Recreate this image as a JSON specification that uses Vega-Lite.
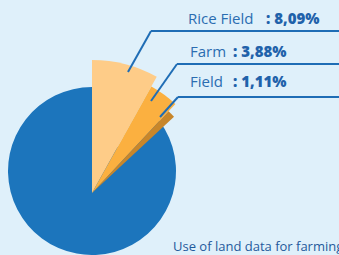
{
  "$schema": "https://vega.github.io/schema/vega-lite/v6.json",
  "width": 339,
  "height": 255,
  "autosize": {"type": "none"},
  "padding": 0,
  "background": "#DFF0FA",
  "config": {"view": {"stroke": null}},
  "data": {
    "values": [
      {"category": "Rice Field", "value": 8.09, "order": 1, "pct": ": 8,09%"},
      {"category": "Farm", "value": 3.88, "order": 2, "pct": ": 3,88%"},
      {"category": "Field", "value": 1.11, "order": 3, "pct": ": 1,11%"},
      {"category": "Other", "value": 86.92, "order": 4, "pct": ""}
    ]
  },
  "transform": [
    {"stack": "value", "groupby": [], "sort": [{"field": "order", "order": "ascending"}], "as": ["t0", "t1"]}
  ],
  "layer": [
    {
      "transform": [{"filter": "datum.category === 'Other'"}],
      "mark": {"type": "arc", "color": "#1C75BC"},
      "encoding": {
        "theta": {"field": "t0", "type": "quantitative", "scale": {"domain": [0, 100]}},
        "theta2": {"field": "t1"},
        "radius": {"value": 84},
        "x": {"value": 92},
        "y": {"value": 171}
      }
    },
    {
      "transform": [{"filter": "datum.category === 'Rice Field'"}],
      "mark": {"type": "arc", "color": "#FECC88"},
      "encoding": {
        "theta": {"field": "t0", "type": "quantitative", "scale": {"domain": [0, 100]}},
        "theta2": {"field": "t1"},
        "radius": {"value": 133},
        "x": {"value": 92},
        "y": {"value": 193}
      }
    },
    {
      "transform": [{"filter": "datum.category === 'Farm'"}],
      "mark": {"type": "arc", "color": "#FBB040"},
      "encoding": {
        "theta": {"field": "t0", "type": "quantitative", "scale": {"domain": [0, 100]}},
        "theta2": {"field": "t1"},
        "radius": {"value": 122},
        "x": {"value": 92},
        "y": {"value": 193}
      }
    },
    {
      "transform": [{"filter": "datum.category === 'Field'"}],
      "mark": {"type": "arc", "color": "#C8862A"},
      "encoding": {
        "theta": {"field": "t0", "type": "quantitative", "scale": {"domain": [0, 100]}},
        "theta2": {"field": "t1"},
        "radius": {"value": 112},
        "x": {"value": 92},
        "y": {"value": 193}
      }
    },
    {
      "transform": [{"filter": "datum.category === 'Rice Field'"}],
      "layer": [
        {"mark": {"type": "rule", "color": "#1F6DB5", "strokeWidth": 2}, "encoding": {"x": {"value": 128}, "y": {"value": 72}, "x2": {"value": 151}, "y2": {"value": 31}}},
        {"mark": {"type": "rule", "color": "#1F6DB5", "strokeWidth": 2}, "encoding": {"x": {"value": 151}, "y": {"value": 31}, "x2": {"value": 339}, "y2": {"value": 31}}},
        {"mark": {"type": "text", "align": "left", "baseline": "alphabetic", "font": "Open Sans", "fontSize": 15, "color": "#2B6DB1"}, "encoding": {"text": {"field": "category"}, "x": {"value": 188}, "y": {"value": 24}}},
        {"mark": {"type": "text", "align": "left", "baseline": "alphabetic", "font": "Open Sans", "fontSize": 15, "fontWeight": 800, "color": "#1F62AA"}, "encoding": {"text": {"field": "pct"}, "x": {"value": 266}, "y": {"value": 24}}}
      ]
    },
    {
      "transform": [{"filter": "datum.category === 'Farm'"}],
      "layer": [
        {"mark": {"type": "rule", "color": "#1F6DB5", "strokeWidth": 2}, "encoding": {"x": {"value": 151}, "y": {"value": 101}, "x2": {"value": 177}, "y2": {"value": 64}}},
        {"mark": {"type": "rule", "color": "#1F6DB5", "strokeWidth": 2}, "encoding": {"x": {"value": 177}, "y": {"value": 64}, "x2": {"value": 339}, "y2": {"value": 64}}},
        {"mark": {"type": "text", "align": "left", "baseline": "alphabetic", "font": "Open Sans", "fontSize": 15, "color": "#2B6DB1"}, "encoding": {"text": {"field": "category"}, "x": {"value": 190}, "y": {"value": 57}}},
        {"mark": {"type": "text", "align": "left", "baseline": "alphabetic", "font": "Open Sans", "fontSize": 15, "fontWeight": 800, "color": "#1F62AA"}, "encoding": {"text": {"field": "pct"}, "x": {"value": 233}, "y": {"value": 57}}}
      ]
    },
    {
      "transform": [{"filter": "datum.category === 'Field'"}],
      "layer": [
        {"mark": {"type": "rule", "color": "#1F6DB5", "strokeWidth": 2}, "encoding": {"x": {"value": 160}, "y": {"value": 117}, "x2": {"value": 178}, "y2": {"value": 97}}},
        {"mark": {"type": "rule", "color": "#1F6DB5", "strokeWidth": 2}, "encoding": {"x": {"value": 178}, "y": {"value": 97}, "x2": {"value": 339}, "y2": {"value": 97}}},
        {"mark": {"type": "text", "align": "left", "baseline": "alphabetic", "font": "Open Sans", "fontSize": 15, "color": "#2B6DB1"}, "encoding": {"text": {"field": "category"}, "x": {"value": 190}, "y": {"value": 87}}},
        {"mark": {"type": "text", "align": "left", "baseline": "alphabetic", "font": "Open Sans", "fontSize": 15, "fontWeight": 800, "color": "#1F62AA"}, "encoding": {"text": {"field": "pct"}, "x": {"value": 233}, "y": {"value": 87}}}
      ]
    },
    {
      "data": {"values": [{"caption": "Use of land data for farming"}]},
      "mark": {"type": "text", "align": "left", "baseline": "alphabetic", "font": "Open Sans", "fontSize": 13, "color": "#1F5A9C"},
      "encoding": {"text": {"field": "caption"}, "x": {"value": 173}, "y": {"value": 251}}
    }
  ]
}
